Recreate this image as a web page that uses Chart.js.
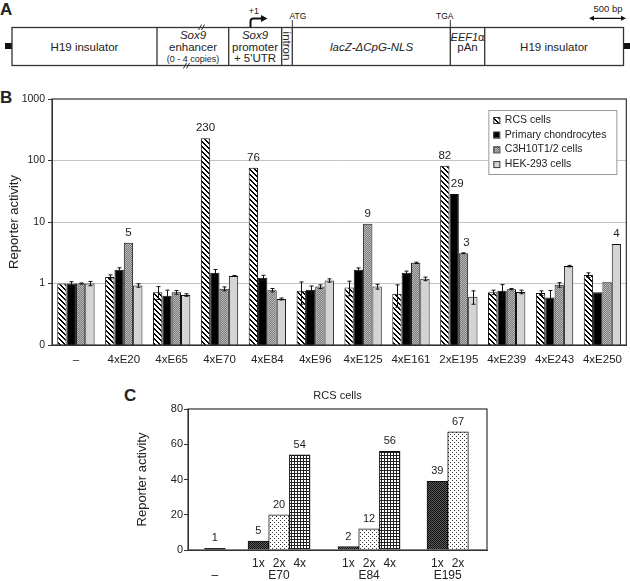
<!DOCTYPE html>
<html>
<head>
<meta charset="utf-8">
<script src="https://cdn.jsdelivr.net/npm/chart.js@4.4.1/dist/chart.umd.min.js"></script>
<style>
  body { margin: 0; background: #fff; width: 630px; height: 581px; position: relative; overflow: hidden; }
  #sheet { position: absolute; left: 0; top: 0; }
  canvas { position: absolute; left: 0; }
  #chartB { top: 85px; }
  #chartC { top: 380px; }
</style>
</head>
<body>
<svg id="sheet" width="630" height="581" font-family="'Liberation Sans', Arial, sans-serif" fill="#222">
  <!-- panel letters -->
  <text x="0" y="15" font-size="17" font-weight="bold">A</text>
  <text x="0" y="103" font-size="17" font-weight="bold">B</text>
  <text x="124" y="401" font-size="17" font-weight="bold">C</text>

  <!-- panel A: construct -->
  <rect x="5" y="43" width="7" height="6" fill="#111"/>
  <rect x="623.5" y="43" width="7" height="6" fill="#111"/>
  <rect x="12" y="27.5" width="611.5" height="38" fill="#fff" stroke="#333" stroke-width="1.3"/>
  <g stroke="#333" stroke-width="1.3">
    <line x1="157" y1="27.5" x2="157" y2="65.5"/>
    <line x1="228.7" y1="27.5" x2="228.7" y2="65.5"/>
    <line x1="281.7" y1="27.5" x2="281.7" y2="65.5"/>
    <line x1="292.3" y1="27.5" x2="292.3" y2="65.5"/>
    <line x1="450.3" y1="27.5" x2="450.3" y2="65.5"/>
    <line x1="484.7" y1="27.5" x2="484.7" y2="65.5"/>
    <line x1="292.3" y1="20" x2="292.3" y2="27.5" stroke-width="1"/>
    <line x1="450.3" y1="20" x2="450.3" y2="27.5" stroke-width="1"/>
  </g>
  <g stroke="#333" stroke-width="1">
    <line x1="198.5" y1="30" x2="201.5" y2="24.5"/>
    <line x1="201.5" y1="30" x2="204.5" y2="24.5"/>
    <line x1="183.5" y1="68.5" x2="186.5" y2="63"/>
    <line x1="186.5" y1="68.5" x2="189.5" y2="63"/>
  </g>
  <path d="M250.5,27.5 V21.5 Q250.5,18.5 253.5,18.5 H262" fill="none" stroke="#111" stroke-width="2"/>
  <polygon points="261,15 267.5,18.5 261,22" fill="#111"/>
  <text x="254" y="14" font-size="9" text-anchor="middle">+1</text>
  <text x="298" y="18.5" font-size="8.5" text-anchor="middle" fill="#111">ATG</text>
  <text x="444.7" y="18.5" font-size="8.5" text-anchor="middle" fill="#111">TGA</text>
  <text x="608" y="12" font-size="9.5" text-anchor="middle">500 bp</text>
  <line x1="591" y1="18.3" x2="624" y2="18.3" stroke="#111" stroke-width="1.2"/>
  <polygon points="589,18.3 594,15.8 594,20.8" fill="#111"/>
  <polygon points="626,18.3 621,15.8 621,20.8" fill="#111"/>

  <g font-size="11.5" text-anchor="middle">
    <text x="84.5" y="51">H19 insulator</text>
    <text x="193" y="39.3" font-style="italic">Sox9</text>
    <text x="193" y="51">enhancer</text>
    <text x="193" y="61.5" font-size="9">(0 - 4 copies)</text>
    <text x="255" y="39.3" font-style="italic">Sox9</text>
    <text x="255" y="51">promoter</text>
    <text x="255" y="62.3">+ 5'UTR</text>
    <text transform="translate(287,46) rotate(90)" font-size="11.5" dominant-baseline="central">intron</text>
    <text x="371.5" y="51" font-style="italic">lacZ-ΔCpG-NLS</text>
    <text x="467.5" y="40.5" font-size="11"><tspan font-style="italic">EEF1</tspan>α</text>
    <text x="467.5" y="50.5">pAn</text>
    <text x="554" y="51">H19 insulator</text>
  </g>
</svg>
<canvas id="chartB" width="630" height="290"></canvas>
<canvas id="chartC" width="630" height="201"></canvas>

<script>
const FONT = '"Liberation Sans", Arial, sans-serif';
Chart.defaults.font.family = FONT;
Chart.defaults.color = '#222';

// ---- panel B data ----
const bCategories = ['–', '4xE20', '4xE65', '4xE70', '4xE84', '4xE96', '4xE125', '4xE161', '2xE195', '4xE239', '4xE243', '4xE250'];
const seriesNames = ['RCS cells', 'Primary chondrocytes', 'C3H10T1/2 cells', 'HEK-293 cells'];

const rcsValues  = [1.0, 1.28, 0.72, 230, 76, 0.76, 0.86, 0.68, 82, 0.72, 0.70, 1.37];
const primValues = [1.0, 1.67, 0.63, 1.49, 1.24, 0.79, 1.67, 1.49, 28.6, 0.76, 0.59, 0.72];
const c3hValues  = [1.0, 4.6, 0.72, 0.82, 0.78, 0.89, 9.4, 2.17, 3.1, 0.81, 0.95, 1.05];
const hekValues  = [1.0, 0.93, 0.65, 1.33, 0.56, 1.12, 0.89, 1.19, 0.61, 0.73, 1.92, 4.37];

const rcsErr  = [0, 0.1, 0.17, 0, 0, 0.3, 0.23, 0.27, 0, 0.06, 0.06, 0.12];
const primErr = [0.07, 0.13, 0.15, 0.2, 0.12, 0.12, 0.12, 0.1, 0, 0.2, 0.18, 0];
const c3hErr  = [0.02, 0, 0.05, 0.06, 0.05, 0.06, 0, 0.05, 0.05, 0.02, 0.08, 0];
const hekErr  = [0.08, 0.06, 0.03, 0.02, 0.02, 0.07, 0.08, 0.08, 0.15, 0.05, 0.05, 0];

const rcsNotes  = ['', '', '', '230', '76', '', '', '', '82', '', '', ''];
const primNotes = ['', '', '', '', '', '', '', '', '29', '', '', ''];
const c3hNotes  = ['', '5', '', '', '', '', '9', '', '3', '', '', ''];
const hekNotes  = ['', '', '', '', '', '', '', '', '', '', '', '4'];

const bTicks = [0.1, 1, 10, 100, 1000];
const bTickText = ['0', '1', '10', '100', '1000'];

// ---- panel C data ----
const cValues   = [1, 5, 20, 54, 2, 12, 56, 39, 67];
const cCopies   = ['', '1x', '2x', '4x', '1x', '2x', '4x', '1x', '2x'];
const cEnhancer = ['–', 'E70', 'E70', 'E70', 'E84', 'E84', 'E84', 'E195', 'E195'];
const cSlot     = [1.3, 3.4, 4.4, 5.4, 7.75, 8.75, 9.75, 12.05, 13.05];
const cTicks    = [0, 20, 40, 60, 80];

// fill patterns
function makePattern(ctx, size, draw) {
  const c = document.createElement('canvas');
  c.width = c.height = size;
  const g = c.getContext('2d');
  draw(g, size);
  return ctx.createPattern(c, 'repeat');
}
function px(g, x, y, col) { g.fillStyle = col; g.fillRect(x, y, 1, 1); }

const ctxB = document.getElementById('chartB').getContext('2d');
const ctxC = document.getElementById('chartC').getContext('2d');

const hatch = makePattern(ctxB, 5, (g, n) => {
  g.fillStyle = '#fff'; g.fillRect(0, 0, n, n);
  for (let i = 0; i < n; i++) { px(g, i, i, '#000'); px(g, (i + 1) % n, i, '#000'); }
});
const stipple = makePattern(ctxB, 2, (g) => {
  px(g, 0, 0, '#777'); px(g, 1, 1, '#777'); px(g, 1, 0, '#bdbdbd'); px(g, 0, 1, '#bdbdbd');
});
const bFills = [hatch, '#000', stipple, '#d4d4d4'];

const darkDots = makePattern(ctxC, 2, (g) => {
  px(g, 0, 0, '#111'); px(g, 1, 1, '#111'); px(g, 1, 0, '#5a5a5a'); px(g, 0, 1, '#5a5a5a');
});
const lightDots = makePattern(ctxC, 4, (g, n) => {
  g.fillStyle = '#fff'; g.fillRect(0, 0, n, n);
  px(g, 0, 0, '#333'); px(g, 2, 2, '#333');
});
const gridFill = makePattern(ctxC, 3, (g, n) => {
  g.fillStyle = '#fff'; g.fillRect(0, 0, n, n);
  g.fillStyle = '#222'; g.fillRect(0, 0, n, 1); g.fillRect(0, 0, 1, n);
});
const copyFill = { '': darkDots, '1x': darkDots, '2x': lightDots, '4x': gridFill };

const frame = {
  id: 'frame',
  afterDraw(chart) {
    const { ctx, chartArea: a } = chart;
    ctx.save();
    ctx.strokeStyle = '#333';
    ctx.lineWidth = 1.2;
    ctx.strokeRect(a.left, a.top, a.right - a.left, a.bottom - a.top);
    ctx.restore();
  }
};

const bErrors = [rcsErr, primErr, c3hErr, hekErr];
const bNotes = [rcsNotes, primNotes, c3hNotes, hekNotes];

const bExtras = {
  id: 'bExtras',
  afterDatasetsDraw(chart) {
    const { ctx, chartArea: a } = chart;
    const y = chart.scales.y;
    ctx.save();
    // error bars
    ctx.strokeStyle = '#111';
    ctx.lineWidth = 1;
    chart.data.datasets.forEach((ds, d) => {
      chart.getDatasetMeta(d).data.forEach((bar, i) => {
        const e = bErrors[d][i];
        if (!e) return;
        const v = ds.data[i];
        const hi = y.getPixelForValue(v + e);
        const lo = y.getPixelForValue(Math.max(v - e, 0.11));
        const x = Math.round(bar.x) + 0.5;
        ctx.beginPath();
        ctx.moveTo(x, hi); ctx.lineTo(x, lo);
        ctx.moveTo(x - 2, hi); ctx.lineTo(x + 2, hi);
        ctx.moveTo(x - 2, lo); ctx.lineTo(x + 2, lo);
        ctx.stroke();
      });
    });
    // value notes
    ctx.fillStyle = '#222';
    ctx.font = '11.5px ' + FONT;
    ctx.textAlign = 'center';
    ctx.textBaseline = 'middle';
    chart.data.datasets.forEach((ds, d) => {
      chart.getDatasetMeta(d).data.forEach((bar, i) => {
        const t = bNotes[d][i];
        if (!t) return;
        const left = d > 0 ? chart.data.datasets[d - 1].data[i] : 0;
        const shift = left > ds.data[i] ? 3 : 0;
        ctx.fillText(t, bar.x + shift, bar.y - 10);
      });
    });
    // legend
    const bw = 128, bh = 64;
    const bx = a.right - 10 - bw, by = a.top + 11;
    ctx.fillStyle = '#fff';
    ctx.fillRect(bx, by, bw, bh);
    ctx.strokeStyle = '#999';
    ctx.strokeRect(bx + 0.5, by + 0.5, bw, bh);
    ctx.font = '10.5px ' + FONT;
    ctx.textAlign = 'left';
    seriesNames.forEach((name, i) => {
      const cy = by + 10 + i * 14.7;
      ctx.fillStyle = bFills[i];
      ctx.fillRect(bx + 5, cy - 3, 6, 6);
      ctx.strokeStyle = '#333';
      ctx.strokeRect(bx + 5.5, cy - 2.5, 6, 6);
      ctx.fillStyle = '#222';
      ctx.fillText(name, bx + 16.5, cy);
    });
    ctx.restore();
  }
};

new Chart(ctxB, {
  type: 'bar',
  data: {
    labels: bCategories,
    datasets: [rcsValues, primValues, c3hValues, hekValues].map((vals, i) => ({
      label: seriesNames[i],
      data: vals,
      backgroundColor: bFills[i],
      borderColor: '#111',
      borderWidth: 1,
      categoryPercentage: 0.78,
      barPercentage: 1
    }))
  },
  options: {
    responsive: false,
    animation: false,
    devicePixelRatio: 1,
    layout: { padding: { left: 3, top: 14, right: 2, bottom: 0 } },
    plugins: { legend: { display: false }, tooltip: { enabled: false } },
    scales: {
      x: {
        grid: { display: false, drawTicks: false },
        border: { color: '#333' },
        ticks: { font: { size: 11.5 }, padding: 8, maxRotation: 0, autoSkip: false },
        afterFit: s => { s.height = 30; }
      },
      y: {
        type: 'logarithmic',
        min: 0.1,
        max: 1000,
        afterBuildTicks: s => { s.ticks = bTicks.map(v => ({ value: v })); },
        ticks: { font: { size: 10.5 }, padding: 3, callback: v => bTickText[bTicks.indexOf(v)] },
        grid: {
          color: c => (c.tick && c.tick.value > 0.1 && c.tick.value < 1000) ? '#c4c4c4' : 'rgba(0,0,0,0)',
          tickColor: '#333',
          tickLength: 4
        },
        border: { color: '#333' },
        title: { display: true, text: 'Reporter activity', font: { size: 13 } },
        afterFit: s => { s.width = 49; }
      }
    }
  },
  plugins: [frame, bExtras]
});

const cExtras = {
  id: 'cExtras',
  afterDatasetsDraw(chart) {
    const { ctx, chartArea: a } = chart;
    const bars = chart.getDatasetMeta(0).data;
    ctx.save();
    ctx.fillStyle = '#222';
    ctx.textAlign = 'center';
    ctx.textBaseline = 'middle';
    ctx.font = '11px ' + FONT;
    bars.forEach((b, i) => ctx.fillText(String(cValues[i]), b.x, b.y - 10));
    ctx.font = '12px ' + FONT;
    bars.forEach((b, i) => { if (cCopies[i]) ctx.fillText(cCopies[i], b.x, a.bottom + 14); });
    const groups = {};
    bars.forEach((b, i) => { (groups[cEnhancer[i]] = groups[cEnhancer[i]] || []).push(b.x); });
    Object.keys(groups).forEach(k => {
      const xs = groups[k];
      ctx.fillText(k, xs.reduce((s, v) => s + v, 0) / xs.length, a.bottom + 26);
    });
    ctx.restore();
  }
};

new Chart(ctxC, {
  type: 'bar',
  data: {
    datasets: [{
      label: 'RCS cells',
      data: cValues.map((v, i) => ({ x: cSlot[i], y: v })),
      backgroundColor: cCopies.map(c => copyFill[c]),
      borderColor: '#111',
      borderWidth: 1,
      categoryPercentage: 1,
      barPercentage: 1
    }]
  },
  options: {
    responsive: false,
    animation: false,
    devicePixelRatio: 1,
    layout: { padding: { left: 131, top: 0, right: 143, bottom: 0 } },
    plugins: {
      legend: { display: false },
      tooltip: { enabled: false },
      title: { display: true, text: 'RCS cells', fullSize: false, font: { size: 11, weight: 'normal' }, color: '#222', padding: { top: 9, bottom: 6.8 } }
    },
    scales: {
      x: {
        type: 'linear',
        offset: false,
        min: 0,
        max: 14.45,
        grid: { display: false, drawTicks: false },
        ticks: { display: false },
        border: { color: '#333' },
        afterFit: s => { s.height = 31; }
      },
      y: {
        min: 0,
        max: 80,
        afterBuildTicks: s => { s.ticks = cTicks.map(v => ({ value: v })); },
        ticks: { font: { size: 11 }, padding: 1 },
        grid: { drawOnChartArea: false, tickColor: '#333', tickLength: 4 },
        border: { color: '#333' },
        title: { display: true, text: 'Reporter activity', font: { size: 13 } },
        afterFit: s => { s.width = 57; }
      }
    }
  },
  plugins: [frame, cExtras]
});
</script>
</body>
</html>
